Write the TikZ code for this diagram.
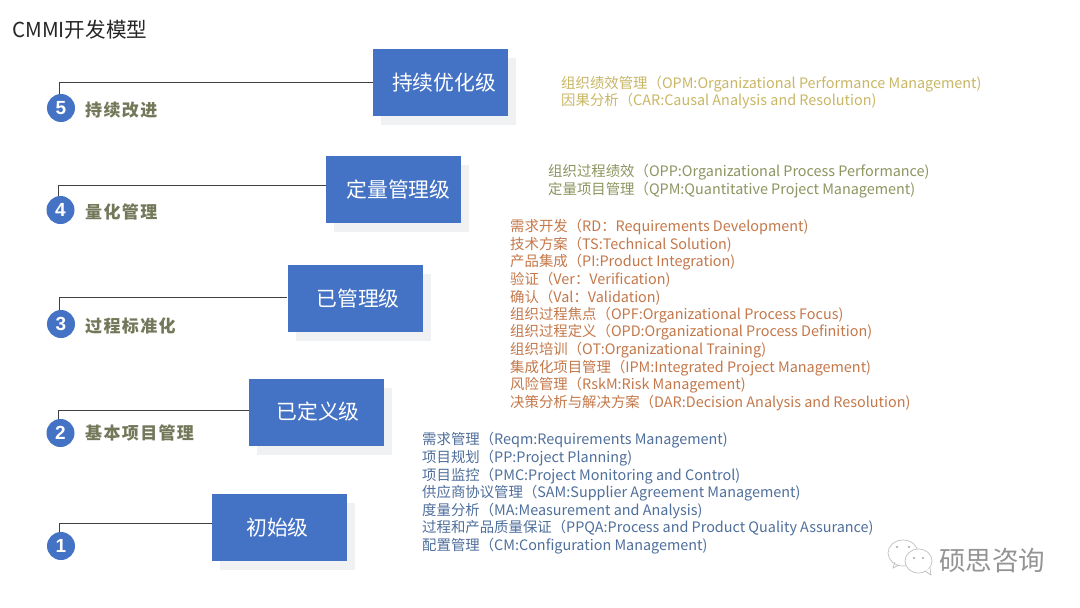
\documentclass[tikz,border=0pt]{standalone}
\usepackage{fontspec}
\setmainfont{Noto Sans CJK SC}
\newfontfamily\digitfont{Liberation Sans}
\newfontfamily\stepfont[LetterSpace=8]{Noto Sans CJK SC}
\definecolor{boxblue}{HTML}{4472C4}
\definecolor{shadowgrey}{HTML}{EFF1F3}
\definecolor{stepolive}{HTML}{73785A}
\definecolor{goldtxt}{HTML}{C9B765}
\definecolor{olivetxt}{HTML}{8D9560}
\definecolor{orangetxt}{HTML}{C4784A}
\definecolor{bluetxt}{HTML}{4F6F9C}
\tikzset{
 x=1pt,y=-1pt,
 levelbox/.style={fill=boxblue,draw=none,minimum width=135pt,minimum height=67pt,inner sep=0pt,text=white,font=\fontsize{20.8}{24}\selectfont},
 shadowbox/.style={fill=shadowgrey,draw=none,minimum width=135pt,minimum height=67pt,inner sep=0pt},
 badge/.style={circle,fill=boxblue,minimum size=28pt,inner sep=0pt,text=white,font=\digitfont\bfseries\fontsize{19}{22}\selectfont},
 steplabel/.style={anchor=west,inner sep=0pt,text=stepolive,font=\stepfont\bfseries\fontsize{17}{20}\selectfont},
 link/.style={draw=black!75,line width=0.9pt},
 item/.style={anchor=west,inner sep=0pt,yshift=-0.8pt,font=\fontsize{14.4}{17}\selectfont},
}
\begin{document}
\begin{tikzpicture}
\useasboundingbox (0,0) rectangle (1080,608);
\fill[white] (0,0) rectangle (1080,608);
\node[anchor=west,inner sep=0pt,text=black!85,font=\fontsize{20.6}{24}\selectfont] (title) at (12,30) {CMMI开发模型};
% shadows
\foreach \x/\y in {440.5/82.5,393.5/189.5,355/298.5,316.5/412,279.5/527.5}
  \node[shadowbox] at (\x+8,\y+9) {};
% boxes
\node[levelbox] (b5) at (440.5,82.5) {\hspace*{7pt}持续优化级};
\node[levelbox] (b4) at (393.5,189.5) {\hspace*{10pt}定量管理级};
\node[levelbox] (b3) at (355,298.5) {\hspace*{6pt}已管理级};
\node[levelbox] (b2) at (316.5,412) {\hspace*{3pt}已定义级};
\node[levelbox] (b1) at (279.5,527.5) {初始级\hspace*{4pt}};
% badges
\node[badge] (c5) at (61,108) {5};
\node[badge] (c4) at (60.5,210) {4};
\node[badge] (c3) at (61,324) {3};
\node[badge] (c2) at (60.5,433) {2};
\node[badge] (c1) at (61,546) {1};
% connectors
\draw[link] ([xshift=-2pt]c5.north) |- ([yshift=0pt]b5.west);
\draw[link] ([xshift=-2pt]c4.north) |- ([yshift=4.5pt]b4.west);
\draw[link] ([xshift=-2pt]c3.north) |- ([yshift=1.5pt]b3.west);
\draw[link] ([xshift=-2pt]c2.north) |- ([yshift=2pt]b2.west);
\draw[link] ([xshift=-2pt]c1.north) |- ([yshift=4.5pt]b1.west);
% step labels
\node[steplabel] (s5) at (85,110) {持续改进};
\node[steplabel] (s4) at (85,212) {量化管理};
\node[steplabel] (s3) at (85,326) {过程标准化};
\node[steplabel] (s2) at (85,432.5) {基本项目管理};
% gold
\begin{scope}[every node/.append style={item,text=goldtxt}]
\node (g1) at (561,83.5) {组织绩效管理（OPM:Organizational Performance Management)};
\node (g2) at (561,100.5) {因果分析（CAR:Causal Analysis and Resolution)};
\end{scope}
\begin{scope}[every node/.append style={item,text=olivetxt}]
\node (o1) at (548,171.5) {组织过程绩效（OPP:Organizational Process Performance)};
\node (o2) at (548,189.5) {定量项目管理（QPM:Quantitative Project Management)};
\end{scope}
\begin{scope}[every node/.append style={item,text=orangetxt}]
\node (r1) at (510,226) {需求开发（RD：Requirements Development)};
\node (r2) at (510,243.5) {技术方案（TS:Technical Solution)};
\node (r3) at (510,261.5) {产品集成（PI:Product Integration)};
\node (r4) at (510,279) {验证（Ver：Verification)};
\node (r5) at (510,296.5) {确认（Val：Validation)};
\node (r6) at (510,314) {组织过程焦点（OPF:Organizational Process Focus)};
\node (r7) at (510,331.5) {组织过程定义（OPD:Organizational Process Definition)};
\node (r8) at (510,349) {组织培训（OT:Organizational Training)};
\node (r9) at (510,367) {集成化项目管理（IPM:Integrated Project Management)};
\node (r10) at (510,384) {风险管理（RskM:Risk Management)};
\node (r11) at (510,402) {决策分析与解决方案（DAR:Decision Analysis and Resolution)};
\end{scope}
\begin{scope}[every node/.append style={item,text=bluetxt}]
\node (u1) at (422,439.5) {需求管理（Reqm:Requirements Management)};
\node (u2) at (422,457) {项目规划（PP:Project Planning)};
\node (u3) at (422,475) {项目监控（PMC:Project Monitoring and Control)};
\node (u4) at (422,492.5) {供应商协议管理（SAM:Supplier Agreement Management)};
\node (u5) at (422,510) {度量分析（MA:Measurement and Analysis)};
\node (u6) at (422,527.5) {过程和产品质量保证（PPQA:Process and Product Quality Assurance)};
\node (u7) at (422,545) {配置管理（CM:Configuration Management)};
\end{scope}
% watermark
\node[anchor=west,inner sep=0pt,text=black!42,font=\fontsize{26.5}{30}\selectfont] (wm) at (939,561) {硕思咨询};
\begin{scope}[draw=black!25,line width=0.7pt,fill=white]
\draw (903,553) ellipse (15pt and 13pt);
\draw (899,565) -- (893,568) -- (895,562);
\filldraw (918.5,561) ellipse (13.5pt and 12pt);
\draw[fill=white] (925,571) -- (931,575) -- (930,568);
\end{scope}
\fill[black!35] (897,547) circle (1.1pt) (909,547) circle (1.1pt) (914,558) circle (1.1pt) (923,558) circle (1.1pt);
\end{tikzpicture}
\end{document}
